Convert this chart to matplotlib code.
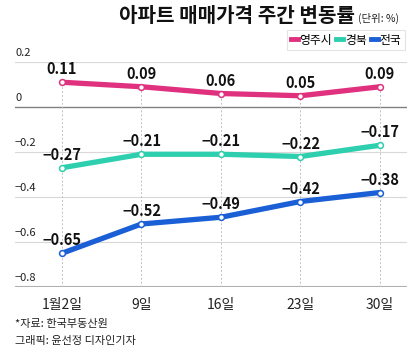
import matplotlib
matplotlib.use("Agg")
import matplotlib.pyplot as plt
from matplotlib.lines import Line2D

plt.rcParams['font.family'] = ['Noto Sans CJK KR', 'DejaVu Sans']

# data
dates = ['1월2일', '9일', '16일', '23일', '30일']
yeongju = [0.11, 0.09, 0.06, 0.05, 0.09]
gyeongbuk = [-0.27, -0.21, -0.21, -0.22, -0.17]
national = [-0.65, -0.52, -0.49, -0.42, -0.38]
yticks = [0.2, 0, -0.2, -0.4, -0.6, -0.8]

series = [('영주시', yeongju, '#e0317f'),
          ('경북', gyeongbuk, '#2dcfae'),
          ('전국', national, '#1a5fd6')]

W, H = 420, 352
fig = plt.figure(figsize=(W / 100, H / 100), dpi=100)
ax = fig.add_axes([15 / W, 1 - 287 / H, 392 / W, 225 / H])
x = list(range(len(dates)))
ax.set_xlim(-0.591, 4.34)
ax.set_ylim(-0.8, 0.2)
ax.axis('off')

# grid lines + y labels above them
for v in yticks:
    if v == 0:
        ax.axhline(v, color='#808080', lw=1.0, zorder=1)
    elif v == -0.8:
        ax.axhline(v, color='#b0b0b0', lw=2.2, zorder=1)
    else:
        ax.axhline(v, color='#d8d8d8', lw=0.8, zorder=1)
    lab = '0' if v == 0 else ('%.1f' % v).replace('-', '\u2212')
    ax.annotate(lab, (0, v), xycoords=('axes fraction', 'data'),
                xytext=(0, 3), textcoords='offset points',
                ha='left', va='bottom', fontsize=8, color='#222222')

# vertical dashed guides
for i in x:
    top = max(s[1][i] for s in series)
    ax.plot([i, i], [-0.8, top], color='#c0c0c0', lw=0.7, ls=(0, (2, 2)), zorder=1)

for name, vals, col in series:
    ax.plot(x, vals, color=col, lw=3.8, zorder=3, solid_capstyle='butt')
    ax.plot(x, vals, ls='none', marker='o', ms=4.2, mfc='white', mec=col,
            mew=1.1, zorder=4, clip_on=False)
    for i, v in zip(x, vals):
        txt = ('%.2f' % v).replace('-', '\u2212')
        ax.annotate(txt, (i, v), xytext=(0, 3.5), textcoords='offset points',
                    ha='center', va='bottom', fontsize=10.5, fontweight='bold',
                    color='#111111', zorder=5)

# x labels
for i, d in zip(x, dates):
    ax.annotate(d, (i, -0.8), xytext=(0, -8), textcoords='offset points',
                ha='center', va='top', fontsize=10, color='#222222')

# title
fig.text(355 / W, 1 - 16 / H, '아파트 매매가격 주간 변동률', ha='right', va='center',
         fontsize=14.5, fontweight='black', color='#111111')
fig.text(358 / W, 1 - 18 / H, '(단위: %)', ha='left', va='center',
         fontsize=7.5, color='#222222')

# legend
handles = [Line2D([0], [0], color=c, lw=3.5) for _, _, c in series]
leg = fig.legend(handles, [s[0] for s in series], loc='upper right',
                 bbox_to_anchor=(405 / W, 1 - 30 / H), ncol=3, frameon=True,
                 fontsize=8.5, handlelength=0.6, handletextpad=0.15,
                 columnspacing=0.35, borderpad=0.3, borderaxespad=0.0,
                 fancybox=False)
leg.get_frame().set_edgecolor('#dddddd')
leg.get_frame().set_linewidth(0.8)

# footer
fig.text(15 / W, 1 - 324 / H, '*자료: 한국부동산원', ha='left', va='center',
         fontsize=8, color='#222222')
fig.text(15 / W, 1 - 341 / H, '그래픽: 윤선정 디자인기자', ha='left', va='center',
         fontsize=8, color='#222222')

fig.savefig('out.png', dpi=100)
